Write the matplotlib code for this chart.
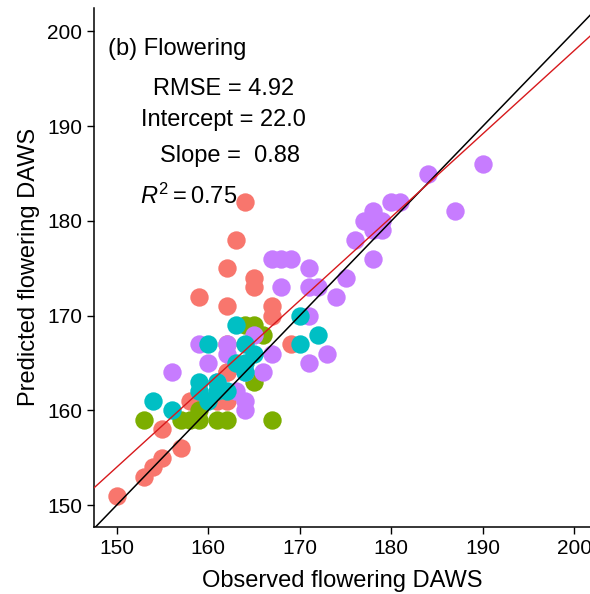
import numpy as np
import matplotlib
matplotlib.use("Agg")
from matplotlib import pyplot as plt

plt.rcParams['font.family'] = ['Liberation Sans', 'DejaVu Sans']
plt.rcParams['mathtext.fontset'] = 'custom'
plt.rcParams['mathtext.rm'] = 'Liberation Sans'
plt.rcParams['mathtext.it'] = 'Liberation Sans:italic'

# observed / predicted flowering DAWS, one pair of lists per group
obs_red = [150, 153, 154, 155, 157, 155, 158, 161, 162, 162, 162, 159, 162, 162, 163, 164, 165, 165, 167, 167, 169, 162]
pred_red = [151, 153, 154, 155, 156, 158, 161, 161, 164, 167, 161, 172, 171, 175, 178, 182, 174, 173, 171, 170, 167, 164]

obs_green = [153, 157, 158, 159, 159, 161, 162, 167, 165, 164, 166, 165]
pred_green = [159, 159, 159, 159, 160, 159, 159, 159, 163, 169, 168, 169]

obs_cyan = [154, 156, 159, 159, 160, 161, 161, 162, 163, 164, 165, 164, 160, 163, 164, 170, 172, 170]
pred_cyan = [161, 160, 163, 162, 161, 163, 162, 162, 165, 164, 166, 167, 167, 169, 165, 170, 168, 167]

obs_purple = [190, 184, 187, 180, 181, 178, 177, 179, 179, 178, 176, 178, 175, 174, 171, 171, 172, 168,
              167, 168, 169, 171, 173, 171, 165, 167, 159, 162, 160, 156, 164, 166, 163, 164, 164, 162, 161]
pred_purple = [186, 185, 181, 182, 182, 181, 180, 180, 179, 179, 178, 176, 174, 172, 175, 173, 173, 173,
               176, 176, 176, 170, 166, 165, 168, 166, 167, 166, 165, 164, 164, 164, 162, 161, 160, 167, 163]

groups = [(obs_red, pred_red, '#F8766D'),
          (obs_green, pred_green, '#7CAE00'),
          (obs_purple, pred_purple, '#C77CFF'),
          (obs_cyan, pred_cyan, '#00BFC4')]

# regression stats shown on the panel
rmse = 4.92
intercept = 22.0
slope = 0.88
r2 = 0.75

fig = plt.figure(figsize=(5.9, 5.94), dpi=100)
ax = fig.add_axes([0.159, 0.113, 0.841, 0.874])

for x, y, c in groups:
    ax.scatter(x, y, s=175, c=c, lw=0, zorder=2)

xx = np.array([140, 210])
ax.plot(xx, xx, color='black', lw=1.1, zorder=3)
ax.plot(xx, intercept + slope * xx, color='#D7191C', lw=1.0, zorder=3)

ax.set_xlim(147.5, 201.7)
ax.set_ylim(147.7, 202.5)
ax.set_xticks([150, 160, 170, 180, 190, 200])
ax.set_yticks([150, 160, 170, 180, 190, 200])

for s in ['top', 'right']:
    ax.spines[s].set_visible(False)
for s in ['left', 'bottom']:
    ax.spines[s].set_linewidth(1.1)
ax.tick_params(labelsize=15, length=5, width=1.0, colors='black')

ax.set_xlabel('Observed flowering DAWS', fontsize=17, labelpad=9)
ax.set_ylabel('Predicted flowering DAWS', fontsize=17, labelpad=5)

ax.text(149.1, 198.1, '(b) Flowering', fontsize=17, ha='left', va='center')
ax.text(161.7, 193.9, 'RMSE = %.2f' % rmse, fontsize=17, ha='center', va='center')
ax.text(161.7, 190.6, 'Intercept = %.1f' % intercept, fontsize=17, ha='center', va='center')
ax.text(162.4, 186.8, 'Slope =  %.2f' % slope, fontsize=17, ha='center', va='center')
ax.text(152.6, 182.6, r'$R^2 = %.2f$' % r2, fontsize=17, ha='left', va='center')

plt.savefig('out.png', dpi=100)
